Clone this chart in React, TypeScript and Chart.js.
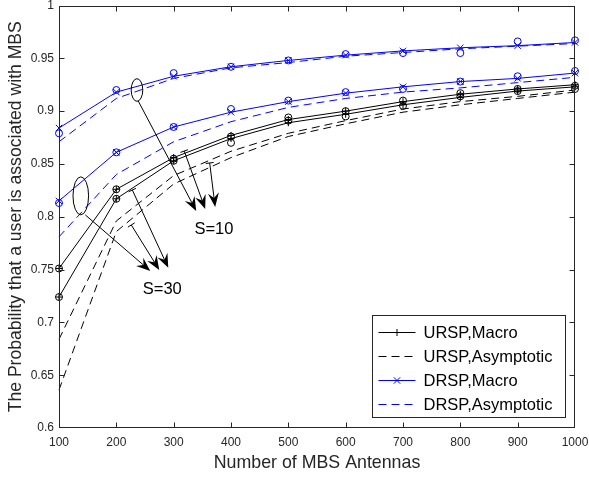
import React, { useEffect, useRef } from "react";
import { Chart, registerables } from "chart.js";

Chart.register(...registerables);

// ---------------- data ----------------
const antennas = [100, 200, 300, 400, 500, 600, 700, 800, 900, 1000];

// URSP (black)
const urspMacroS10 = [0.751, 0.826, 0.856, 0.877, 0.892, 0.9, 0.909, 0.916, 0.921, 0.925];
const urspMacroS30 = [0.724, 0.817, 0.853, 0.874, 0.889, 0.897, 0.906, 0.913, 0.919, 0.923];
const urspAsymS10 = [0.684, 0.796, 0.839, 0.862, 0.879, 0.891, 0.902, 0.909, 0.914, 0.92];
const urspAsymS30 = [0.636, 0.786, 0.831, 0.856, 0.876, 0.888, 0.899, 0.906, 0.912, 0.918];
const urspSimS10 = [0.751, 0.826, 0.855, 0.876, 0.894, 0.9, 0.91, 0.917, 0.921, 0.924];
const urspSimS30 = [0.724, 0.817, 0.853, 0.87, 0.891, 0.895, 0.905, 0.914, 0.919, 0.921];

// DRSP (blue)
const drspMacroS10 = [0.884, 0.918, 0.933, 0.942, 0.948, 0.953, 0.957, 0.96, 0.962, 0.965];
const drspMacroS30 = [0.815, 0.861, 0.885, 0.899, 0.909, 0.917, 0.923, 0.928, 0.931, 0.936];
const drspAsymS10 = [0.871, 0.912, 0.931, 0.941, 0.946, 0.952, 0.9555, 0.959, 0.9615, 0.964];
const drspAsymS30 = [0.781, 0.84, 0.871, 0.89, 0.9035, 0.912, 0.918, 0.922, 0.927, 0.932];
const drspSimS10 = [0.879, 0.92, 0.936, 0.942, 0.948, 0.954, 0.955, 0.955, 0.966, 0.967];
const drspSimS30 = [0.813, 0.861, 0.885, 0.902, 0.91, 0.918, 0.921, 0.928, 0.933, 0.938];

const legendLabels = ["URSP,Macro", "URSP,Asymptotic", "DRSP,Macro", "DRSP,Asymptotic"];
const xTitle = "Number of MBS Antennas";
const yTitle = "The Probability that a user is associated with MBS";

// annotation anchors, in data units (antennas, probability)
const annotEllipses = [
  { x: 236, y: 0.92, rx: 5.8, ry: 11.3 },
  { x: 138, y: 0.8198, rx: 7.8, ry: 19 },
];
const annotArrows = [
  { x1: 238.3, y1: 0.9095, x2: 339.3, y2: 0.8055, cap: false },
  { x1: 318.4, y1: 0.8622, x2: 355, y2: 0.8074, cap: true },
  { x1: 362.8, y1: 0.8509, x2: 372.4, y2: 0.8093, cap: true },
  { x1: 146, y1: 0.8017, x2: 259.2, y2: 0.7487, cap: false },
  { x1: 227.9, y1: 0.8253, x2: 290.6, y2: 0.7516, cap: true },
  { x1: 226.1, y1: 0.7922, x2: 274.9, y2: 0.7497, cap: true },
];
const annotLabels = [
  { text: "S=10", x: 370.2, y: 0.7882 },
  { text: "S=30", x: 280.1, y: 0.7308 },
];

// ---------------- styles ----------------
const FONT = '"Liberation Sans", Arial, Helvetica, sans-serif';
const BLUE = "#0000ff";
const BLACK = "#000000";
const AXIS = "#262626";
const DASH = [8, 5];

type Opt = { dash?: boolean; point?: string; r?: number; showLine?: boolean };

function mk(label: string, ys: number[], color: string, o: Opt) {
  return {
    label,
    data: antennas.map((x, i) => ({ x, y: ys[i] })),
    borderColor: color,
    backgroundColor: color,
    borderWidth: 1,
    borderDash: o.dash ? DASH : [],
    pointStyle: o.point || "circle",
    pointRadius: o.point ? o.r || 3.5 : 0,
    pointHoverRadius: o.point ? o.r || 3.5 : 0,
    pointBorderWidth: 1,
    pointBorderColor: color,
    pointBackgroundColor: "rgba(0,0,0,0)",
    showLine: o.showLine !== false,
    fill: false,
    tension: 0,
    clip: false,
  };
}

function drawMarker(ctx: CanvasRenderingContext2D, style: string, x: number, y: number, r: number, color: string) {
  ctx.save();
  ctx.strokeStyle = color;
  ctx.lineWidth = 1;
  ctx.setLineDash([]);
  ctx.beginPath();
  if (style === "cross") {
    ctx.moveTo(x - r, y);
    ctx.lineTo(x + r, y);
    ctx.moveTo(x, y - r);
    ctx.lineTo(x, y + r);
  } else if (style === "crossRot") {
    const d = r * Math.SQRT1_2;
    ctx.moveTo(x - d, y - d);
    ctx.lineTo(x + d, y + d);
    ctx.moveTo(x - d, y + d);
    ctx.lineTo(x + d, y - d);
  }
  ctx.stroke();
  ctx.restore();
}

const decorPlugin = {
  id: "decor",
  afterDatasetsDraw(chart: any) {
    const ctx: CanvasRenderingContext2D = chart.ctx;
    const { left, right, top, bottom } = chart.chartArea;
    const xs = chart.scales.x;
    const ys = chart.scales.y;
    const px = (v: number) => xs.getPixelForValue(v);
    const py = (v: number) => ys.getPixelForValue(v);
    ctx.save();

    // frame
    const L = Math.round(left) + 0.5;
    const R = Math.round(right) - 0.5;
    const T = Math.round(top) + 0.5;
    const B = Math.round(bottom) - 0.5;
    ctx.strokeStyle = AXIS;
    ctx.lineWidth = 1;
    ctx.setLineDash([]);
    ctx.strokeRect(L, T, R - L, B - T);

    // inward ticks
    const tl = 5;
    ctx.beginPath();
    xs.ticks.forEach((t: any) => {
      const x = Math.round(px(t.value)) + 0.5;
      if (x <= L + 1 || x >= R - 1) return;
      ctx.moveTo(x, B);
      ctx.lineTo(x, B - tl);
      ctx.moveTo(x, T);
      ctx.lineTo(x, T + tl);
    });
    ys.ticks.forEach((t: any) => {
      const y = Math.round(py(t.value)) + 0.5;
      if (y <= T + 1 || y >= B - 1) return;
      ctx.moveTo(L, y);
      ctx.lineTo(L + tl, y);
      ctx.moveTo(R, y);
      ctx.lineTo(R - tl, y);
    });
    ctx.stroke();

    // annotations
    ctx.strokeStyle = BLACK;
    ctx.fillStyle = BLACK;
    ctx.lineWidth = 1;
    annotEllipses.forEach((e) => {
      ctx.beginPath();
      ctx.ellipse(px(e.x), py(e.y), e.rx, e.ry, 0, 0, Math.PI * 2);
      ctx.stroke();
    });
    annotArrows.forEach((a) => {
      const x1 = px(a.x1), y1 = py(a.y1), x2 = px(a.x2), y2 = py(a.y2);
      const dx = x2 - x1, dy = y2 - y1;
      const len = Math.hypot(dx, dy);
      const ux = dx / len, uy = dy / len;
      const nx = -uy, ny = ux;
      const hl = 14, hw = 5.5, notch = 5;
      ctx.beginPath();
      ctx.moveTo(x1, y1);
      ctx.lineTo(x2 - ux * (hl - notch), y2 - uy * (hl - notch));
      if (a.cap) {
        ctx.moveTo(x1 - nx * 4, y1 - ny * 4);
        ctx.lineTo(x1 + nx * 4, y1 + ny * 4);
      }
      ctx.stroke();
      ctx.beginPath();
      ctx.moveTo(x2, y2);
      ctx.lineTo(x2 - ux * hl + nx * hw, y2 - uy * hl + ny * hw);
      ctx.lineTo(x2 - ux * (hl - notch), y2 - uy * (hl - notch));
      ctx.lineTo(x2 - ux * hl - nx * hw, y2 - uy * hl - ny * hw);
      ctx.closePath();
      ctx.fill();
    });
    ctx.font = `16.5px ${FONT}`;
    ctx.textAlign = "center";
    ctx.textBaseline = "middle";
    annotLabels.forEach((l) => {
      ctx.fillText(l.text, px(l.x), py(l.y));
    });

    // legend
    const bw = 193, bh = 102;
    const bx = Math.round(right - 10 - bw) + 0.5;
    const by = Math.round(bottom - 11 - bh) + 0.5;
    ctx.fillStyle = "#ffffff";
    ctx.fillRect(bx, by, bw, bh);
    ctx.strokeStyle = AXIS;
    ctx.strokeRect(bx, by, bw, bh);
    const entries = [
      { color: BLACK, dash: false, marker: "cross" },
      { color: BLACK, dash: true, marker: "" },
      { color: BLUE, dash: false, marker: "crossRot" },
      { color: BLUE, dash: true, marker: "" },
    ];
    ctx.font = `16.5px ${FONT}`;
    ctx.textAlign = "left";
    ctx.textBaseline = "middle";
    entries.forEach((en, i) => {
      const cy = Math.round(by + 16.7 + i * 23.9) + 0.5;
      const sx0 = bx + 6, sx1 = bx + 43;
      ctx.strokeStyle = en.color;
      ctx.lineWidth = 1;
      ctx.setLineDash(en.dash ? DASH : []);
      ctx.beginPath();
      ctx.moveTo(sx0, cy);
      ctx.lineTo(sx1, cy);
      ctx.stroke();
      ctx.setLineDash([]);
      if (en.marker) drawMarker(ctx, en.marker, (sx0 + sx1) / 2, cy, en.marker === "cross" ? 3.5 : 4.5, en.color);
      ctx.fillStyle = BLACK;
      ctx.fillText(legendLabels[i], bx + 51, cy + 0.5);
    });

    ctx.restore();
  },
};

export default function App() {
  const ref = useRef<HTMLCanvasElement | null>(null);

  useEffect(() => {
    if (!ref.current) return;
    const datasets = [
      mk(legendLabels[0] + " S=10", urspMacroS10, BLACK, { point: "cross", r: 3.5 }),
      mk(legendLabels[0] + " S=30", urspMacroS30, BLACK, { point: "cross", r: 3.5 }),
      mk(legendLabels[1] + " S=10", urspAsymS10, BLACK, { dash: true }),
      mk(legendLabels[1] + " S=30", urspAsymS30, BLACK, { dash: true }),
      mk("URSP,Simulation S=10", urspSimS10, BLACK, { point: "circle", r: 3.5, showLine: false }),
      mk("URSP,Simulation S=30", urspSimS30, BLACK, { point: "circle", r: 3.5, showLine: false }),
      mk(legendLabels[2] + " S=10", drspMacroS10, BLUE, { point: "crossRot", r: 4.5 }),
      mk(legendLabels[2] + " S=30", drspMacroS30, BLUE, { point: "crossRot", r: 4.5 }),
      mk(legendLabels[3] + " S=10", drspAsymS10, BLUE, { dash: true }),
      mk(legendLabels[3] + " S=30", drspAsymS30, BLUE, { dash: true }),
      mk("DRSP,Simulation S=10", drspSimS10, BLUE, { point: "circle", r: 3.5, showLine: false }),
      mk("DRSP,Simulation S=30", drspSimS30, BLUE, { point: "circle", r: 3.5, showLine: false }),
    ];

    const chart = new Chart(ref.current, {
      type: "line",
      data: { datasets } as any,
      options: {
        responsive: false,
        animation: false,
        events: [],
        layout: { padding: { top: 5, right: 14, left: 0, bottom: 0 } },
        plugins: { legend: { display: false }, tooltip: { enabled: false } },
        scales: {
          x: {
            type: "linear",
            min: 100,
            max: 1000,
            ticks: {
              stepSize: 100,
              color: AXIS,
              font: { family: FONT, size: 12 },
              padding: 7,
              maxRotation: 0,
              autoSkip: false,
              callback: (v: any) => String(Math.round(Number(v))),
            },
            grid: { display: false, drawTicks: false, tickLength: 0 },
            border: { display: false },
            title: {
              display: true,
              text: xTitle,
              color: AXIS,
              font: { family: FONT, size: 17.8 },
              padding: { top: 0, bottom: 5 },
            },
            afterFit: (s: any) => {
              s.height = 51;
              s.paddingLeft = 0;
              s.paddingRight = 0;
            },
          },
          y: {
            type: "linear",
            min: 0.6,
            max: 1,
            ticks: {
              stepSize: 0.05,
              color: AXIS,
              font: { family: FONT, size: 12 },
              padding: 5,
              callback: (v: any) => String(Number(Number(v).toFixed(2))),
            },
            grid: { display: false, drawTicks: false, tickLength: 0 },
            border: { display: false },
            title: {
              display: true,
              text: yTitle,
              color: AXIS,
              font: { family: FONT, size: 17.6 },
              padding: { top: 6, bottom: 0 },
            },
            afterFit: (s: any) => {
              s.width = 59;
              s.paddingTop = 0;
              s.paddingBottom = 0;
            },
          },
        },
      } as any,
      plugins: [decorPlugin],
    });
    return () => chart.destroy();
  }, []);

  return (
    <div style={{ position: "absolute", left: 0, top: 0, width: 589, height: 479, background: "#fff" }}>
      <canvas ref={ref} width={589} height={479} style={{ display: "block", width: 589, height: 479 }} />
    </div>
  );
}
